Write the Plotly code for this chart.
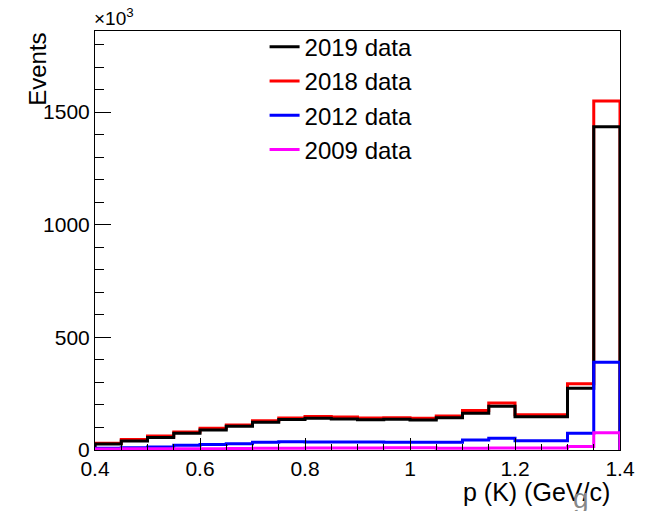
import numpy as np
import plotly.graph_objects as go

# ---- data (thousands of events per 0.05 GeV/c bin) ----
bin_edges = [round(0.40 + 0.05 * i, 2) for i in range(21)]
data_2019 = [27, 40, 56, 74, 89, 105, 123, 135, 141, 138, 134, 136, 133, 143, 163, 194, 148, 148, 274, 1435]
data_2018 = [30, 47, 62, 80, 96, 111, 130, 142, 149, 146, 142, 143, 141, 151, 175, 209, 157, 157, 294, 1549]
data_2012 = [8, 10, 13, 21, 24, 28, 34, 37, 35, 35, 35, 34, 34, 34, 44, 52, 41, 41, 74, 389]
data_2009 = [4, 5, 5, 6, 6, 7, 8, 8, 9, 9, 9, 10, 10, 8, 8, 9, 9, 9, 15, 77]

series = [
    ("2018 data", data_2018, "#ff0000", 2),
    ("2019 data", data_2019, "#000000", 1),
    ("2012 data", data_2012, "#0000ff", 3),
    ("2009 data", data_2009, "#ff00ff", 4),
]

FONT = "Liberation Sans, Arial, sans-serif"

fig = go.Figure()
for name, vals, color, rank in series:
    xs = [bin_edges[0]] + bin_edges[:-1] + [bin_edges[-1]]
    ys = [0] + list(vals) + [0]
    fig.add_trace(go.Scatter(
        x=xs, y=ys, mode="lines", name=name,
        line=dict(color=color, width=3, shape="hv"),
        legendrank=rank, legendgroup=name,
    ))

fig.update_layout(
    width=654, height=511,
    margin=dict(l=95, r=34, t=31, b=61),
    paper_bgcolor="white", plot_bgcolor="white",
    font=dict(family=FONT, color="black"),
    showlegend=True,
    legend=dict(
        x=0.323, y=1.015, xanchor="left", yanchor="top",
        bgcolor="rgba(0,0,0,0)", borderwidth=0,
        font=dict(size=24, family=FONT), itemwidth=30,
        tracegroupgap=0,
    ),
    xaxis=dict(
        range=[0.4, 1.4], tick0=0.4, dtick=0.2,
        ticks="inside", ticklen=12, tickwidth=1, tickcolor="black",
        minor=dict(dtick=0.05, ticks="inside", ticklen=6, tickcolor="black"),
        showline=True, linecolor="black", linewidth=1, mirror=True,
        showgrid=False, zeroline=False,
        tickfont=dict(size=21, family=FONT),
        tickformat="~g",
    ),
    yaxis=dict(
        range=[0, 1860], tick0=0, dtick=500,
        ticks="inside", ticklen=16, tickwidth=1, tickcolor="black",
        minor=dict(dtick=100, ticks="inside", ticklen=9, tickcolor="black"),
        showline=True, linecolor="black", linewidth=1, mirror=True,
        showgrid=False, zeroline=False,
        tickfont=dict(size=21, family=FONT),
    ),
    annotations=[
        dict(text="Events", xref="paper", yref="paper", x=-0.110, y=1.0,
             xanchor="center", yanchor="top", textangle=-90, showarrow=False,
             font=dict(size=24, family=FONT)),
        dict(text="p (K) (GeV/c)", xref="paper", yref="paper", x=0.984, y=-0.1,
             xanchor="right", yanchor="middle", showarrow=False,
             font=dict(size=25, family=FONT)),
        dict(text="×10<sup>3</sup>", xref="paper", yref="paper", x=-0.005, y=1.0,
             xanchor="left", yanchor="bottom", showarrow=False,
             font=dict(size=19, family=FONT)),
        dict(text="g", xref="paper", yref="paper", x=0.925, y=-0.115,
             xanchor="center", yanchor="middle", showarrow=False,
             font=dict(size=28, family=FONT, color="#888888")),
    ],
)

fig.write_html("out.html")
